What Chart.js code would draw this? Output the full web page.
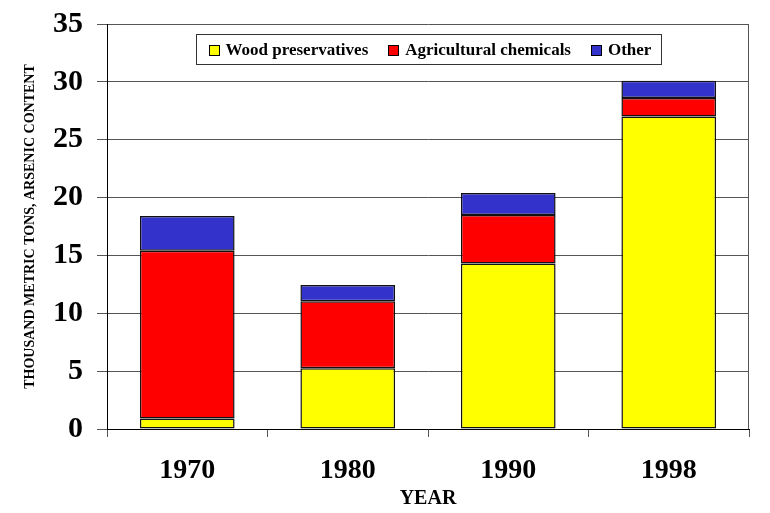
<!DOCTYPE html>
<html>
<head>
<meta charset="utf-8">
<script src="https://cdn.jsdelivr.net/npm/chart.js@4.4.1/dist/chart.umd.min.js"></script>
<style>
  html, body { margin: 0; padding: 0; background: #ffffff; }
  #wrap { width: 770px; height: 513px; }
</style>
</head>
<body>
<div id="wrap"><canvas id="chart" width="770" height="513"></canvas></div>
<script>
// U.S. arsenic consumption by end use, thousand metric tons of arsenic content
const years = ['1970', '1980', '1990', '1998'];
const woodPreservatives = [0.9, 5.25, 14.3, 27.0];
const agriculturalChemicals = [14.5, 5.8, 4.2, 1.6];
const otherUses = [3.0, 1.4, 1.9, 1.5];
const yTicks = [0, 5, 10, 15, 20, 25, 30, 35];

const seriesNames = ['Wood preservatives', 'Agricultural chemicals', 'Other'];
const seriesColors = ['#ffff00', '#ff0000', '#3333cc'];

const SERIF = '"Liberation Serif", "Times New Roman", serif';

// Boxed legend drawn inside the top of the plot area
const insideLegend = {
  id: 'insideLegend',
  afterDatasetsDraw(chart) {
    const ctx = chart.ctx;
    const area = chart.chartArea;
    const sets = chart.data.datasets;
    const sq = 10, gapSq = 7, gapItem = 20, padL = 12, padR = 10;
    const font = 'bold 17px ' + SERIF;
    ctx.save();
    ctx.font = font;
    const widths = sets.map(d => ctx.measureText(d.label).width);
    let content = 0;
    widths.forEach((w, i) => { content += sq + gapSq + w + (i < widths.length - 1 ? gapItem : 0); });
    const boxW = Math.round(content + padL + padR);
    const boxH = 30;
    const cx = (area.left + area.right) / 2;
    const bx = Math.round(cx - boxW / 2) + 0.5;
    const by = Math.round(area.top) + 10.5;
    ctx.fillStyle = '#ffffff';
    ctx.fillRect(bx, by, boxW, boxH);
    ctx.strokeStyle = '#333333';
    ctx.lineWidth = 1;
    ctx.strokeRect(bx, by, boxW, boxH);
    let x = bx + padL;
    const cy = by + boxH / 2;
    sets.forEach((d, i) => {
      const sx = Math.round(x) + 0.5, sy = Math.round(cy - sq / 2) + 0.5;
      ctx.fillStyle = d.backgroundColor;
      ctx.fillRect(sx, sy, sq, sq);
      ctx.strokeStyle = '#000000';
      ctx.strokeRect(sx, sy, sq, sq);
      x += sq + gapSq;
      ctx.font = font;
      ctx.fillStyle = '#000000';
      ctx.textBaseline = 'middle';
      ctx.textAlign = 'left';
      ctx.fillText(d.label, x, cy + 1);
      x += widths[i] + gapItem;
    });
    ctx.restore();
  }
};

// Right-hand frame line of the plot
const rightFrame = {
  id: 'rightFrame',
  beforeDatasetsDraw(chart) {
    const ctx = chart.ctx;
    const a = chart.chartArea;
    ctx.save();
    ctx.strokeStyle = '#555555';
    ctx.lineWidth = 1;
    ctx.beginPath();
    ctx.moveTo(Math.round(a.right) - 0.5, a.top);
    ctx.lineTo(Math.round(a.right) - 0.5, a.bottom);
    ctx.stroke();
    ctx.restore();
  }
};

const dataSeries = [woodPreservatives, agriculturalChemicals, otherUses];

new Chart(document.getElementById('chart'), {
  type: 'bar',
  data: {
    labels: years,
    datasets: dataSeries.map((vals, i) => ({
      label: seriesNames[i],
      data: vals,
      backgroundColor: seriesColors[i],
      borderColor: '#111111',
      borderWidth: 1.5,
      borderSkipped: false,
      categoryPercentage: 1.0,
      barPercentage: 0.59
    }))
  },
  options: {
    responsive: false,
    animation: false,
    devicePixelRatio: 1,
    layout: { padding: { top: 24, right: 21, left: 0, bottom: 0 } },
    plugins: {
      legend: { display: false },
      tooltip: { enabled: false }
    },
    scales: {
      x: {
        stacked: true,
        afterFit(scale) {
          scale.height = 84;
          scale.paddingLeft = 0;
          scale.paddingRight = 0;
        },
        grid: {
          offset: true,
          drawOnChartArea: false,
          drawTicks: true,
          tickLength: 8,
          color: '#555555'
        },
        border: { color: '#000000', width: 1 },
        ticks: {
          color: '#000000',
          font: { family: SERIF, size: 28, weight: 'bold' },
          padding: 17,
          maxRotation: 0
        },
        title: {
          display: true,
          text: 'YEAR',
          color: '#000000',
          font: { family: SERIF, size: 20, weight: 'bold' },
          padding: { top: 0, bottom: 2 }
        }
      },
      y: {
        stacked: true,
        min: 0,
        max: 35,
        afterFit(scale) {
          scale.width = 107;
          scale.paddingTop = 0;
          scale.paddingBottom = 0;
        },
        afterBuildTicks(scale) { scale.ticks = yTicks.map(v => ({ value: v })); },
        grid: {
          color: '#555555',
          lineWidth: 1,
          tickLength: 10,
          drawTicks: true
        },
        border: { color: '#000000', width: 1 },
        ticks: {
          color: '#000000',
          font: { family: SERIF, size: 30, weight: 'bold' },
          padding: 14
        },
        title: {
          display: true,
          text: 'THOUSAND METRIC TONS, ARSENIC CONTENT',
          color: '#000000',
          font: { family: SERIF, size: 14, weight: 'bold' },
          padding: { top: 22, bottom: 0 }
        }
      }
    }
  },
  plugins: [rightFrame, insideLegend]
});
</script>
</body>
</html>
